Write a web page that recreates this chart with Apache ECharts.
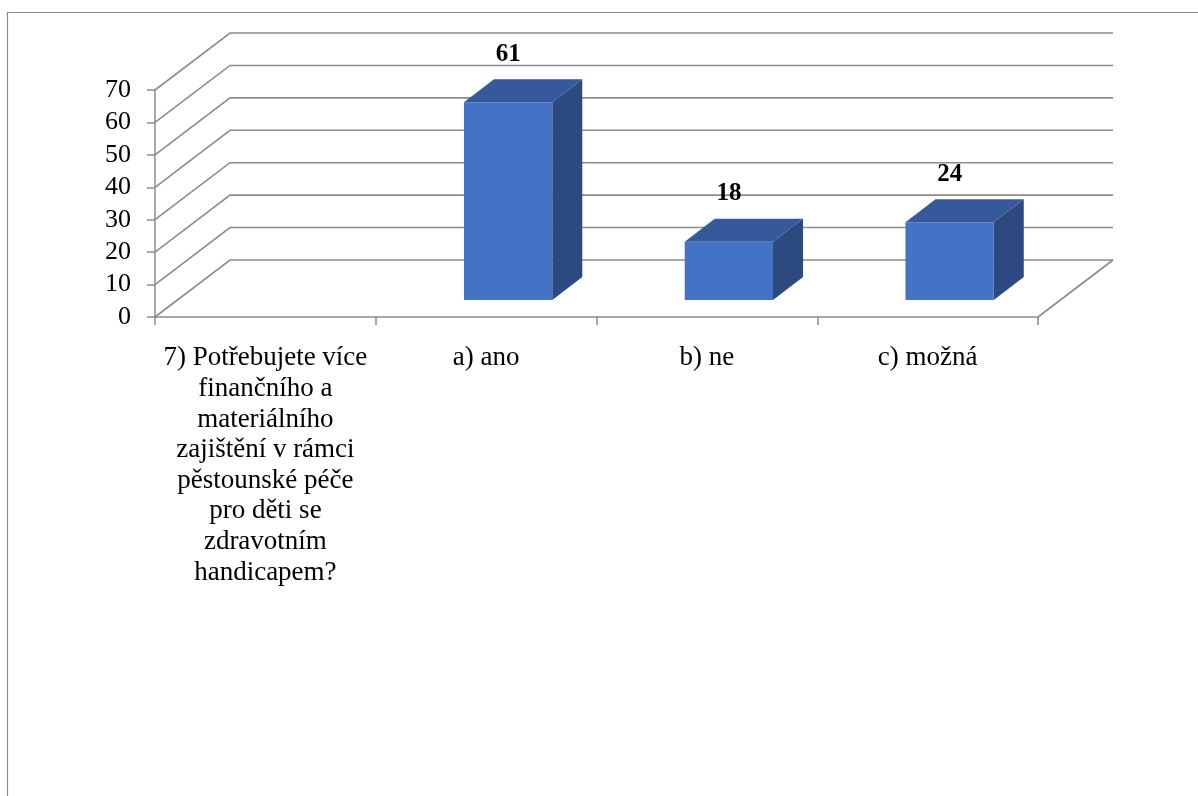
<!DOCTYPE html>
<html>
<head>
<meta charset="utf-8">
<script src="https://cdn.jsdelivr.net/npm/echarts@6/dist/echarts.min.js"></script>
<style>html,body{margin:0;padding:0;background:#fff;}#c{width:1198px;height:796px;}</style>
</head>
<body>
<div id="c"></div>
<script>
// ---- data ----
const question = '7) Potřebujete více\nfinančního a\nmateriálního\nzajištění v rámci\npěstounské péče\npro děti se\nzdravotním\nhandicapem?';
const answers = ['a) ano', 'b) ne', 'c) možná'];
const values = [61, 18, 24];
const yTicks = [0, 10, 20, 30, 40, 50, 60, 70];

const categories = [question].concat(answers);

// ---- style constants ----
const FONT = '"Liberation Serif", "Times New Roman", serif';
const GRID_COLOR = '#8c8c8c';
const WALL = [75, -57];   // back wall offset
const BAR_FRONT = [22, -17]; // bar front plane offset
const BAR_DEPTH = [30, -23]; // bar depth
const C_FRONT = '#4472c4', C_TOP = '#35599a', C_SIDE = '#2c4a7f';

const chart = echarts.init(document.getElementById('c'), null, {renderer: 'canvas'});

const option = {
  backgroundColor: '#ffffff',
  animation: false,
  graphic: [{
    type: 'polyline',
    shape: {points: [[7.5, 800], [7.5, 12.5], [1200, 12.5]]},
    style: {stroke: '#8a8a8a', lineWidth: 1.2, fill: null},
    silent: true
  }],
  grid: {left: 155, right: 160, top: 90, bottom: 479, containLabel: false},
  xAxis: {
    type: 'category',
    data: categories,
    axisLine: {show: true, lineStyle: {color: GRID_COLOR, width: 1.5}},
    axisTick: {show: true, length: 8, lineStyle: {color: GRID_COLOR, width: 1.5}},
    axisLabel: {interval: 0, margin: 26, color: '#000', fontFamily: FONT, fontSize: 27, lineHeight: 30.6, align: 'center'},
    splitLine: {show: false}
  },
  yAxis: {
    type: 'value',
    min: 0, max: 70, interval: 10,
    axisLine: {show: true, lineStyle: {color: GRID_COLOR, width: 1.5}},
    axisTick: {show: true, length: 8, lineStyle: {color: GRID_COLOR, width: 1.5}},
    axisLabel: {margin: 24, color: '#000', fontFamily: FONT, fontSize: 26},
    splitLine: {show: false}
  },
  series: [
    {
      // back wall gridlines + floor
      type: 'custom',
      silent: true,
      z: 1,
      data: yTicks.map(v => [0, v]),
      renderItem: function (params, api) {
        const cs = params.coordSys;
        const x0 = cs.x, x1 = cs.x + cs.width;
        const y = api.coord([0, api.value(1)])[1];
        const children = [{
          type: 'polyline',
          shape: {points: [[x0, y], [x0 + WALL[0], y + WALL[1]], [x1 + WALL[0], y + WALL[1]]]},
          style: {stroke: GRID_COLOR, lineWidth: 1.6, fill: null}
        }];
        if (api.value(1) === 0) {
          children.push({
            type: 'line',
            shape: {x1: x1, y1: y, x2: x1 + WALL[0], y2: y + WALL[1]},
            style: {stroke: GRID_COLOR, lineWidth: 1.6}
          });
        }
        return {type: 'group', children: children};
      }
    },
    {
      // 3D bars
      type: 'custom',
      z: 5,
      data: answers.map((a, i) => [a, values[i]]),
      renderItem: function (params, api) {
        const idx = api.value(0);
        const v = api.value(1);
        const base = api.coord([idx, 0]);
        const top = api.coord([idx, v]);
        const w = api.size([1, 0])[0] * 0.4;
        const xl = base[0] - w / 2 + BAR_FRONT[0];
        const xr = base[0] + w / 2 + BAR_FRONT[0];
        const yb = base[1] + BAR_FRONT[1];
        const yt = top[1] + BAR_FRONT[1];
        const dx = BAR_DEPTH[0], dy = BAR_DEPTH[1];
        return {
          type: 'group',
          children: [
            {type: 'polygon', shape: {points: [[xr, yt], [xr + dx, yt + dy], [xr + dx, yb + dy], [xr, yb]]}, style: {fill: C_SIDE}},
            {type: 'polygon', shape: {points: [[xl, yt], [xr, yt], [xr + dx, yt + dy], [xl + dx, yt + dy]]}, style: {fill: C_TOP}},
            {type: 'rect', shape: {x: xl, y: yt, width: xr - xl, height: yb - yt}, style: {fill: C_FRONT}},
            {type: 'text', x: (xl + xr) / 2, y: yt + dy - 25,
              style: {text: String(v), fill: '#000', font: 'bold 25px ' + FONT, align: 'center', verticalAlign: 'middle'}}
          ]
        };
      }
    }
  ]
};
chart.setOption(option);
</script>
</body>
</html>
